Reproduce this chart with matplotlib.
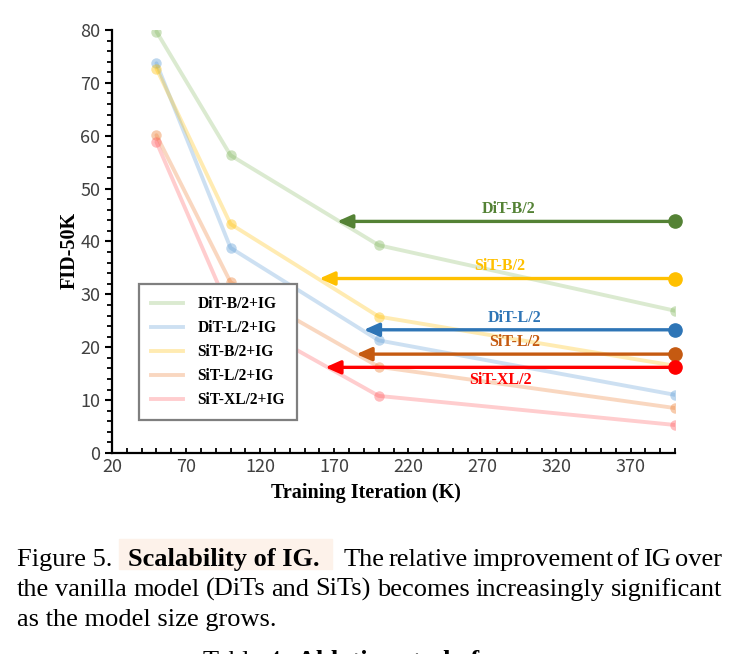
import matplotlib.pyplot as plt
from matplotlib.lines import Line2D
from matplotlib.patches import Rectangle
from matplotlib.ticker import MultipleLocator

# Training iterations (K) and FID-50K of the IG models
iters = [50, 100, 200, 400]
ig_names = ['DiT-B/2+IG', 'DiT-L/2+IG', 'SiT-B/2+IG', 'SiT-L/2+IG', 'SiT-XL/2+IG']
dit_b_ig = [79.7, 56.3, 39.3, 26.9]
dit_l_ig = [73.7, 38.8, 21.3, 11.0]
sit_b_ig = [72.7, 43.3, 25.8, 16.5]
sit_l_ig = [60.1, 32.3, 16.3, 8.5]
sit_xl_ig = [58.8, 26.5, 10.8, 5.3]

# vanilla models at 400K and the iteration where IG reaches the same FID
base_names = ['DiT-B/2', 'SiT-B/2', 'DiT-L/2', 'SiT-L/2', 'SiT-XL/2']
base_fid = [43.8, 33.0, 23.3, 18.7, 16.2]
match_iter = [172, 160, 190, 185, 164]
base_at = 400

x_ticks = [20, 70, 120, 170, 220, 270, 320, 370]

ig_colors = ['#70AD47', '#5B9BD5', '#FFC000', '#ED7D31', '#FF5A5F']
ig_alpha = [0.25, 0.3, 0.3, 0.3, 0.3]
base_colors = ['#548235', '#FFC000', '#2E75B6', '#C55A11', '#FF0000']
label_x = [288, 282, 292, 292, 282]
label_above = [True, True, True, True, False]

serif = 'Liberation Serif'

fig = plt.figure(figsize=(7.4, 6.54), dpi=100)
ax = fig.add_axes([112 / 740, 1 - 453 / 654, 563 / 740, 423 / 654])

for vals, c, a in zip([dit_b_ig, dit_l_ig, sit_b_ig, sit_l_ig, sit_xl_ig], ig_colors, ig_alpha):
    ax.plot(iters, vals, color=c, alpha=a, lw=2.8, solid_capstyle='round', zorder=2)
    ax.plot(iters, vals, 'o', color=c, alpha=a + 0.1, ms=7.5, mew=0, zorder=2)

for name, y, xm, c, lx, above in zip(base_names, base_fid, match_iter, base_colors,
                                     label_x, label_above):
    ax.annotate('', xy=(xm, y), xytext=(base_at, y),
                arrowprops=dict(arrowstyle='-|>,head_length=0.9,head_width=0.4',
                                lw=2.4, color=c, shrinkA=0, shrinkB=0), zorder=4)
    ax.plot([base_at], [y], 'o', color=c, ms=9.5, zorder=5, clip_on=False)
    ax.annotate(name, xy=(lx, y), xytext=(0, 3 if above else -3), textcoords='offset points',
                ha='center', va='bottom' if above else 'top', color=c,
                fontsize=11.5, fontweight='bold', family=serif, zorder=5)

ax.set_xlim(20, 400)
ax.set_ylim(0, 80)
ax.set_xticks(x_ticks)
ax.xaxis.set_minor_locator(MultipleLocator(10))
ax.yaxis.set_major_locator(MultipleLocator(10))
ax.yaxis.set_minor_locator(MultipleLocator(2))
for s in ['top', 'right']:
    ax.spines[s].set_visible(False)
for s in ['left', 'bottom']:
    ax.spines[s].set_linewidth(1.6)
ax.tick_params(axis='y', which='major', direction='out', length=5, width=1.5)
ax.tick_params(axis='y', which='minor', direction='out', length=3.5, width=1.3)
ax.tick_params(axis='x', which='both', direction='in', length=3.5, width=1.3)
for lab in ax.get_xticklabels() + ax.get_yticklabels():
    lab.set_family('Noto Sans CJK SC')
    lab.set_fontweight('light')
    lab.set_fontsize(13)
    lab.set_color('#404040')

ax.set_ylabel('FID-50K', family=serif, fontweight='bold', fontsize=14.5)
ax.yaxis.set_label_coords(-0.058, 0.48)
ax.set_xlabel('Training Iteration (K)', family=serif, fontweight='bold', fontsize=14.5)
ax.xaxis.set_label_coords((366 - 112) / 563, -0.072)

handles = [Line2D([0], [0], color=c, alpha=a, lw=2.8) for c, a in zip(ig_colors, ig_alpha)]
leg = ax.legend(handles, ig_names, loc='lower left', bbox_to_anchor=(0.048, 0.078),
                prop=dict(family=serif, weight='bold', size=11.2), frameon=True,
                fancybox=False, framealpha=1, edgecolor='#7f7f7f',
                handlelength=2.1, handletextpad=0.9, labelspacing=0.52,
                borderpad=0.75, borderaxespad=0)
leg.get_frame().set_linewidth(1.6)
leg.set_zorder(3)

# caption
px = lambda x, y: (x / 740, 1 - y / 654)
fig.patches.append(Rectangle(px(119, 569), 213 / 740, 30 / 654, transform=fig.transFigure,
                             color='#fdf2ea', zorder=0))
cap = dict(family=serif, fontsize=19, va='baseline', ha='left')
renderer = fig.canvas.get_renderer()


def justify(line, x0, x1, y, **kw):
    # lay the words out so that the line fills x0..x1
    words = line.split()
    texts = [fig.text(*px(x0, y), w, **kw) for w in words]
    widths = [t.get_window_extent(renderer).width for t in texts]
    gap = (x1 - x0 - sum(widths)) / (len(words) - 1)
    x = x0
    for t, w in zip(texts, widths):
        t.set_position(px(x, y))
        x += w + gap


fig.text(*px(17, 566), 'Figure 5.', **cap)
fig.text(*px(128, 566), 'Scalability of IG.', fontweight='bold', **cap)
justify('The relative improvement of IG over', 344, 722, 566, **cap)
justify('the vanilla model (DiTs and SiTs) becomes increasingly significant', 17, 722, 596, **cap)
fig.text(*px(17, 626), 'as the model size grows.', **cap)
fig.text(*px(203, 668), 'Table 4.', **cap)
fig.text(*px(297, 668), 'Ablation study for', fontweight='bold', **cap)

fig.savefig('out.png', dpi=100)
